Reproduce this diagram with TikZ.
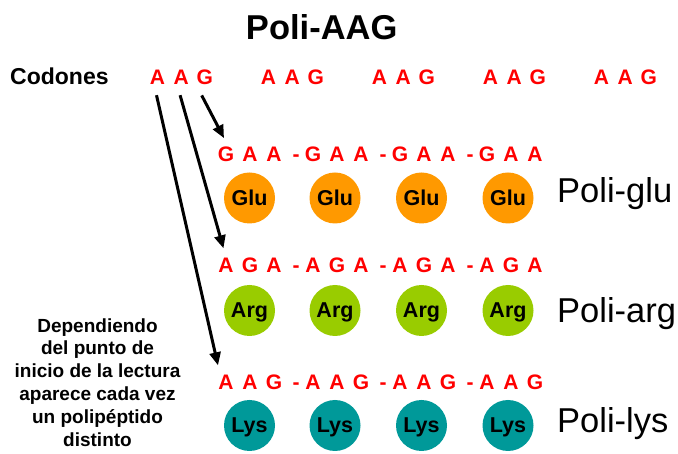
\documentclass[tikz,border=0pt]{standalone}
\usepackage{fontspec}
\setmainfont{Liberation Sans}
\usetikzlibrary{arrows.meta}
\definecolor{codonred}{HTML}{FF0000}
\definecolor{gluorange}{HTML}{FF9900}
\definecolor{arggreen}{HTML}{99CC00}
\definecolor{lysteal}{HTML}{009999}

\begin{document}
\begin{tikzpicture}[x=1pt,y=-1pt,
  basetext/.style={inner sep=0pt, anchor=base},
  letter/.style={basetext, text=codonred, font=\bfseries\fontsize{21}{21}\selectfont},
  aminoacid/.style={circle, minimum size=51pt, inner sep=0pt, text height=14.5pt,
    text depth=0pt, font=\bfseries\fontsize{21.5}{21.5}\selectfont},
  polilabel/.style={inner sep=0pt, anchor=base west, font=\fontsize{34.5}{34.5}\selectfont},
  readarrow/.style={line width=3pt, -{Triangle[length=13pt,width=11pt]}}
]
\useasboundingbox (0,0) rectangle (678,454);

% title and codon row
\node[basetext, font=\bfseries\fontsize{34.5}{34.5}\selectfont] (title) at (321.7,40) {Poli-AAG};
\node[basetext, anchor=base west, font=\bfseries\fontsize{23}{23}\selectfont] (codones) at (10,85) {Codones};
\foreach \g in {0,...,4}{
  \foreach \L [count=\i] in {A,A,G}
    \node[letter] (c\g-\i) at ({157.5+111*\g+23.6*(\i-1)},85) {\L};
}

% the three reading frames
\foreach \r/\y/\a/\b/\c in {1/162/G/A/A, 2/273/A/G/A, 3/390/A/A/G}{
  \foreach \g in {0,...,3}{
    \node[letter] (r\r-\g-1) at ({226+87*\g},\y) {\a};
    \node[letter] (r\r-\g-2) at ({250+87*\g},\y) {\b};
    \node[letter] (r\r-\g-3) at ({274+87*\g},\y) {\c};
  }
  \foreach \g in {0,1,2}
    \node[letter] (r\r-d\g) at ({296+87*\g},\y) {-};
}

% amino acid chains
\foreach \r/\y/\col/\name in {1/198/gluorange/Glu, 2/310.5/arggreen/Arg, 3/425.5/lysteal/Lys}{
  \foreach \g/\x in {0/249.5, 1/335, 2/421.5, 3/508}
    \node[aminoacid, fill=\col] (aa\r-\g) at (\x,\y) {\name};
}

\node[polilabel] (poliglu) at (557,203) {Poli-glu};
\node[polilabel] (poliarg) at (557,323) {Poli-arg};
\node[polilabel] (polilys) at (557,433) {Poli-lys};

% explanatory note (base anchor sits on its last line)
\node[basetext, align=center, font=\bfseries\fontsize{19}{22.9}\selectfont] (note) at (97.5,446.5)
  {Dependiendo\\del punto de\\inicio de la lectura\\aparece cada vez\\un polipéptido\\distinto};

% reading frame arrows
\draw[readarrow] ([shift={(-3,10)}]c0-3.south) -- ([shift={(-2,-9)}]r1-0-1.north);
\draw[readarrow] ([shift={(-1,10)}]c0-2.south) -- ([shift={(-2.5,-10)}]r2-0-1.north);
\draw[readarrow] ([shift={(-1,10)}]c0-1.south) -- ([shift={(-8,-10)}]r3-0-1.north);
\end{tikzpicture}
\end{document}
